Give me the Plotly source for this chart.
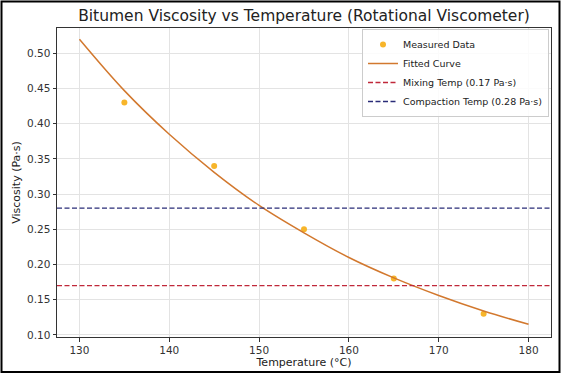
import plotly.graph_objects as go

# Data
measured_temp = [135, 145, 155, 165, 175]
measured_visc = [0.43, 0.34, 0.25, 0.18, 0.13]

fit_temp = [130, 135, 140, 145, 150, 155, 160, 165, 170, 175, 180]
fit_visc = [0.520, 0.447, 0.385, 0.331, 0.284, 0.245, 0.210, 0.181, 0.156, 0.134, 0.115]

mixing_visc = 0.17
compaction_visc = 0.28

x_ticks = [130, 140, 150, 160, 170, 180]
y_ticks = [0.10, 0.15, 0.20, 0.25, 0.30, 0.35, 0.40, 0.45, 0.50]

FONT = "DejaVu Sans"
W, H = 562, 376
ML, MR, MT, MB = 57, 11, 28, 39
PW, PH = W - ML - MR, H - MT - MB

fig = go.Figure()
fig.add_trace(go.Scatter(
    x=measured_temp, y=measured_visc, mode="markers", name="Measured Data",
    marker=dict(color="#F7B52A", size=6, line=dict(width=0)),
))
fig.add_trace(go.Scatter(
    x=fit_temp, y=fit_visc, mode="lines", name="Fitted Curve",
    line=dict(color="#D2782E", width=1.5, shape="spline"),
))
fig.add_trace(go.Scatter(
    x=[127.5, 182.5], y=[mixing_visc, mixing_visc], mode="lines",
    name="Mixing Temp (0.17 Pa·s)",
    line=dict(color="#C0283A", width=1.3, dash="5px,2.5px"),
))
fig.add_trace(go.Scatter(
    x=[127.5, 182.5], y=[compaction_visc, compaction_visc], mode="lines",
    name="Compaction Temp (0.28 Pa·s)",
    line=dict(color="#2A2C78", width=1.3, dash="5px,2.5px"),
))

axis_common = dict(
    showline=True, linecolor="#333333", linewidth=1, mirror=True,
    ticks="outside", ticklen=3.5, tickcolor="#333333",
    showgrid=True, gridcolor="#E3E3E3", gridwidth=1, zeroline=False,
    tickfont=dict(family=FONT, size=10.5, color="#333333"),
)

fig.update_xaxes(
    range=[127.5, 182.5], tickvals=x_ticks, ticktext=[str(v) for v in x_ticks],
    title=dict(text="Temperature (°C)", font=dict(family=FONT, size=11, color="#222222"), standoff=0),
    **axis_common,
)
fig.update_yaxes(
    range=[0.097, 0.536], tickvals=y_ticks, ticktext=[f"{v:.2f}" for v in y_ticks],
    title=dict(text="Viscosity (Pa·s)", font=dict(family=FONT, size=11, color="#222222"), standoff=4),
    **axis_common,
)

# outer frame around the whole image
fig.add_shape(
    type="rect", xref="paper", yref="paper",
    x0=(1.5 - ML) / PW, x1=(559.5 - ML) / PW,
    y0=(PH + MT - 372) / PH, y1=(PH + MT - 1.5) / PH,
    line=dict(color="black", width=2), fillcolor="rgba(0,0,0,0)", layer="above",
)

fig.update_layout(
    width=W, height=H,
    margin=dict(l=ML, r=MR, t=MT, b=MB, pad=0, autoexpand=False),
    paper_bgcolor="white", plot_bgcolor="white",
    title=dict(text="Bitumen Viscosity vs Temperature (Rotational Viscometer)",
               x=(ML + PW / 2) / W, xanchor="center", y=1 - 16 / H, yanchor="middle",
               font=dict(family=FONT, size=15.5, color="#222222")),
    legend=dict(
        x=(549 - ML) / PW, y=1 - 1 / PH, xanchor="right", yanchor="top",
        bgcolor="rgba(255,255,255,0.85)", bordercolor="#CCCCCC", borderwidth=1,
        font=dict(family=FONT, size=9.5, color="#222222"),
        itemwidth=30, tracegroupgap=0,
    ),
    showlegend=True,
)

fig.write_html(
    "out.html",
    config={"displayModeBar": False},
    post_script="document.body.style.margin='0';document.body.style.padding='0';document.body.style.overflow='hidden';",
)
